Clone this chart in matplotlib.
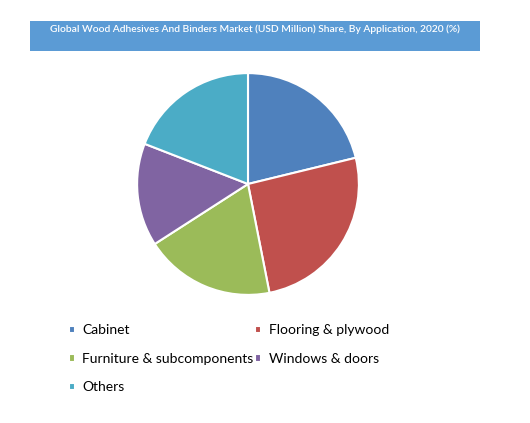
import matplotlib
matplotlib.use("Agg")
from matplotlib import pyplot as plt
from matplotlib.patches import Rectangle

# chart data (share of application segments, %)
categories = ["Cabinet", "Flooring & plywood", "Furniture & subcomponents",
              "Windows & doors", "Others"]
shares = [21.2, 25.7, 19.0, 15.0, 19.1]
colors = ["#4F81BD", "#C0504D", "#9BBB59", "#8064A2", "#4BACC6"]
title = "Global Wood Adhesives And Binders Market (USD Million) Share, By Application, 2020 (%)"

plt.rcParams["font.family"] = ["Lato", "DejaVu Sans"]

fig = plt.figure(figsize=(5.3, 4.23), dpi=100)

# blue title bar
fig.patches.append(Rectangle((30 / 530, 1 - 51 / 423), 450 / 530, 30 / 423,
                             transform=fig.transFigure, facecolor="#5B9BD5",
                             edgecolor="none", zorder=0))
fig.text(255 / 530, 1 - 29.5 / 423, title, color="white", fontsize=7.4,
         fontweight="semibold", ha="center", va="center")

# pie
ax = fig.add_axes([136 / 530, 1 - 296 / 423, 224 / 530, 224 / 423])
wedges, _ = ax.pie(shares, colors=colors, startangle=90, counterclock=False,
                   wedgeprops=dict(edgecolor="white", linewidth=1.5))
ax.set_xlim(-1.01, 1.01)
ax.set_ylim(-1.01, 1.01)
ax.set_aspect("equal")

# legend below the pie, filled row by row like the original
order = [0, 2, 4, 1, 3]
fig.legend([wedges[i] for i in order], [categories[i] for i in order],
           loc="upper left", ncol=2,
           bbox_to_anchor=(56 / 530, 1 - 312 / 423), frameon=False,
           fontsize=10, handlelength=0.45, handleheight=0.45,
           handletextpad=0.55, columnspacing=0.1, labelspacing=1.18)

fig.savefig("out.png", dpi=100)
